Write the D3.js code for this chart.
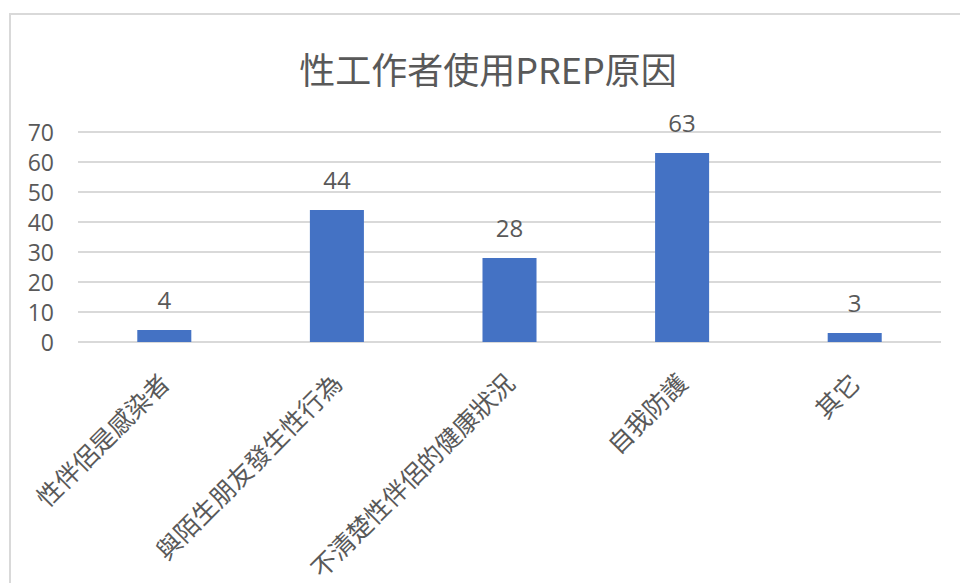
<!DOCTYPE html>
<html><head><meta charset="utf-8">
<script src="https://cdn.jsdelivr.net/npm/d3@7"></script>
<style>
html,body{margin:0;padding:0;background:#fff;}
svg{display:block;}
text{font-family:"Noto Sans CJK TC","Noto Sans",sans-serif;fill:#595959;}
text.num{font-family:"Open Sans","Noto Sans",sans-serif;}
</style></head>
<body><svg id="c" width="960" height="583"></svg>
<script>
const title = "性工作者使用PREP原因";
const categories = ["性伴侶是感染者","與陌生朋友發生性行為","不清楚性伴侶的健康狀況","自我防護","其它"];
const values = [4,44,28,63,3];
const yTicks = [0,10,20,30,40,50,60,70];

const svg = d3.select("#c");
// frame
svg.append("path").attr("d","M10,583 V14 H960").attr("fill","none").attr("stroke","#d9d9d9").attr("stroke-width",2);

const m = {left:78, right:941, top:132, bottom:342};
const x = d3.scaleBand().domain(categories).range([m.left,m.right]).paddingInner(0.687).paddingOuter(0.3435);
const y = d3.scaleLinear().domain([0,70]).range([m.bottom,m.top]);

// gridlines
svg.append("g").selectAll("line").data(yTicks).join("line")
  .attr("x1",m.left).attr("x2",m.right)
  .attr("y1",d=>y(d)).attr("y2",d=>y(d))
  .attr("stroke","#d9d9d9").attr("stroke-width",2);

// y tick labels
const yAxis = d3.axisLeft(y).tickValues(yTicks).tickSize(0).tickPadding(0);
const ga = svg.append("g").attr("transform",`translate(54,0)`).call(yAxis);
ga.select(".domain").remove();
ga.attr("font-family",null).attr("font-size",null);
ga.selectAll("text").attr("class","num").attr("font-size",23).attr("fill","#595959").attr("dy","0.36em");

// bars
svg.append("g").selectAll("rect").data(values).join("rect")
  .attr("x",(d,i)=>x(categories[i])).attr("width",x.bandwidth())
  .attr("y",d=>y(d)).attr("height",d=>y(0)-y(d)).attr("fill","#4472C4");

// data labels
svg.append("g").selectAll("text").data(values).join("text").attr("class","num")
  .attr("x",(d,i)=>x(categories[i])+x.bandwidth()/2).attr("y",d=>y(d)-21)
  .attr("text-anchor","middle").attr("font-size",24).text(d=>d);

// category labels
svg.append("g").selectAll("text").data(categories).join("text")
  .attr("transform",d=>`translate(${x(d)+x.bandwidth()/2+7},385) rotate(-45)`)
  .attr("text-anchor","end").attr("font-size",25).text(d=>d);

// title
svg.append("text").attr("x",488).attr("y",84).attr("text-anchor","middle")
  .attr("font-size",36).text(title);
</script></body></html>
